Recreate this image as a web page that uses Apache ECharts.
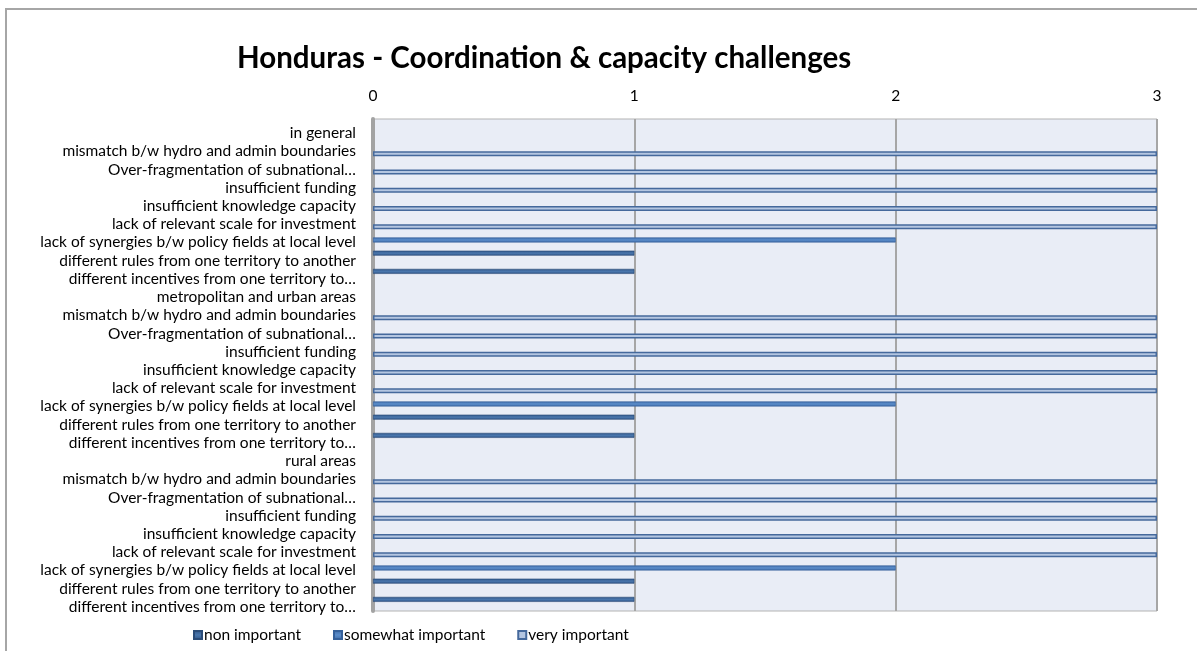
<!DOCTYPE html>
<html>
<head>
<meta charset="utf-8">
<script src="https://cdn.jsdelivr.net/npm/echarts@6/dist/echarts.min.js"></script>
<style>
  html, body { margin: 0; padding: 0; background: #fff; }
  #chart { width: 1197px; height: 651px; }
</style>
</head>
<body>
<div id="chart"></div>
<script>
(function () {
    var groups = ['in general', 'metropolitan and urban areas', 'rural areas'];
    var items = [
        'mismatch b/w hydro and admin boundaries',
        'Over-fragmentation of subnational…',
        'insufficient funding',
        'insufficient knowledge capacity',
        'lack of relevant scale for investment',
        'lack of synergies b/w policy fields at local level',
        'different rules from one territory to another',
        'different incentives from one territory to…'
    ];
    // per group, values for the 8 items (header row has no value)
    var nonImportant = [null, null, null, null, null, null, 1, 1];
    var somewhatImportant = [null, null, null, null, null, 2, null, null];
    var veryImportant = [3, 3, 3, 3, 3, null, null, null];
    var ticks = [0, 1, 2, 3];

    var categories = [];
    var s1 = [], s2 = [], s3 = [], spacer = [];
    groups.forEach(function (g) {
        categories.push(g);
        s1.push(null); s2.push(null); s3.push(null); spacer.push(null);
        items.forEach(function (it, i) {
            categories.push(it);
            s1.push(nonImportant[i]);
            s2.push(somewhatImportant[i]);
            s3.push(veryImportant[i]);
            spacer.push(null);
        });
    });

    function grad(edge, mid) {
        return new echarts.graphic.LinearGradient(0, 0, 0, 1, [
            { offset: 0, color: edge },
            { offset: 0.5, color: mid },
            { offset: 1, color: edge }
        ]);
    }

    var font = 'Lato, "Liberation Sans", sans-serif';
    var fs = 15.5;
    var myChart = echarts.init(document.getElementById('chart'));
    myChart.setOption({
        animation: false,
        textStyle: { fontFamily: font },
        title: {
            text: 'Honduras - Coordination & capacity challenges',
            left: 232,
            top: 38,
            textStyle: { fontSize: 29.5, fontWeight: 'bold', color: '#000', fontFamily: font }
        },
        graphic: [{
            type: 'rect',
            shape: { x: 6, y: 9, width: 1300, height: 700 },
            style: { fill: 'none', stroke: '#a6a6a6', lineWidth: 2 },
            silent: true,
            z: -1
        }],
        legend: {
            left: 188,
            top: 622,
            itemWidth: 8,
            itemHeight: 8,
            itemGap: 32,
            icon: 'rect',
            textStyle: { fontSize: fs, color: '#000', padding: [0, 0, 0, -3] },
            data: ['non important', 'somewhat important', 'very important']
        },
        grid: {
            left: 373,
            top: 119,
            width: 784,
            height: 492,
            show: true,
            backgroundColor: '#e9edf6',
            borderColor: '#b3b3b3',
            borderWidth: 1
        },
        xAxis: {
            type: 'value',
            position: 'top',
            min: ticks[0],
            max: ticks[ticks.length - 1],
            interval: 1,
            axisLine: { show: false },
            axisTick: { show: false },
            axisLabel: { fontSize: fs, color: '#000', margin: 15 },
            splitLine: { lineStyle: { color: '#a6a6a6', width: 2 } }
        },
        yAxis: {
            type: 'category',
            inverse: true,
            data: categories,
            axisLine: { lineStyle: { color: '#a3a3a3', width: 4 } },
            axisTick: { length: 5, lineStyle: { color: '#7f7f7f' } },
            axisLabel: {
                margin: 17,
                formatter: function (v) { return '{a|' + v + '}'; },
                rich: { a: { fontSize: fs, color: '#000', fontFamily: font, padding: [10, 0, 0, 0] } }
            }
        },
        series: [{
            name: 'spacer',
            type: 'bar',
            data: spacer,
            barWidth: 5,
            barGap: '0%',
            silent: true,
            itemStyle: { color: 'transparent' }
        }, {
            name: 'non important',
            type: 'bar',
            data: s1,
            barWidth: 5,
            itemStyle: { color: grad('#2f5487', '#4a77ad'), borderColor: '#2b4c78', borderWidth: 0.6 }
        }, {
            name: 'somewhat important',
            type: 'bar',
            data: s2,
            barWidth: 5,
            itemStyle: { color: grad('#3d6aa6', '#5b8dcb'), borderColor: '#35609a', borderWidth: 0.6 }
        }, {
            name: 'very important',
            type: 'bar',
            data: s3,
            barWidth: 5,
            itemStyle: { color: '#b4c6e1', borderColor: '#45699c', borderWidth: 1.5 }
        }]
    });
})();
</script>
</body>
</html>
